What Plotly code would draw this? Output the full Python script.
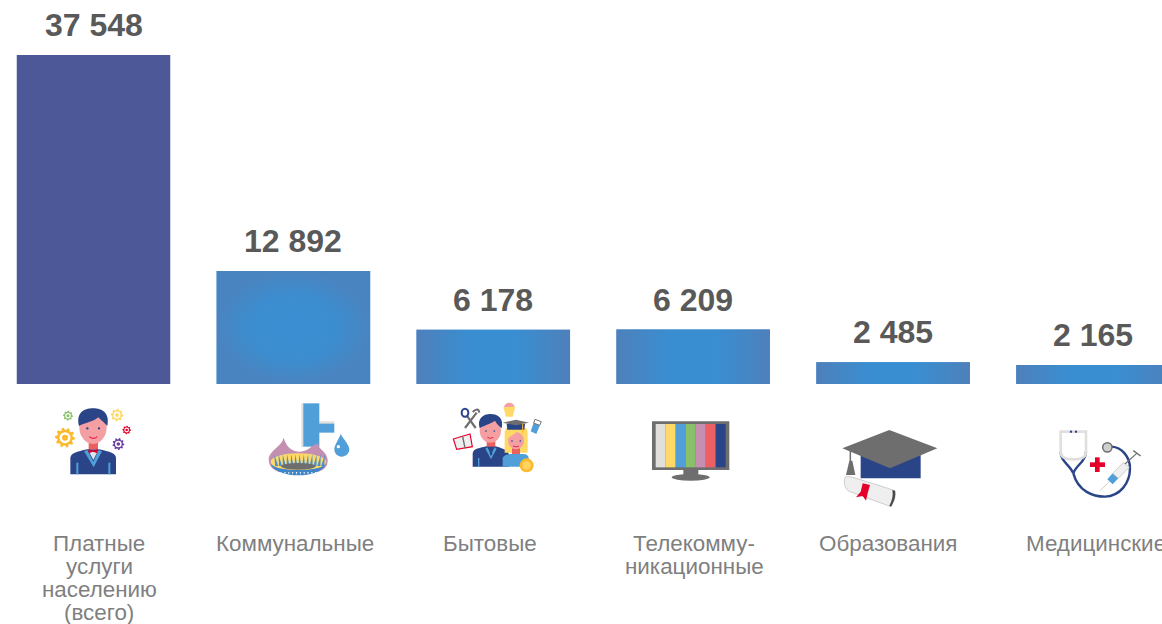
import math
import plotly.graph_objects as go

CATEGORIES = [
    ["Платные", "услуги", "населению", "(всего)"],
    ["Коммунальные"],
    ["Бытовые"],
    ["Телекомму-", "никационные"],
    ["Образования"],
    ["Медицинские"],
]
VALUES = [37548, 12892, 6178, 6209, 2485, 2165]
BAR_COLORS = ["#4C5897", "#3F8ACB", "#3F8ACB", "#3F8ACB", "#3F8ACB", "#3F8ACB"]
LABEL_CENTERS_PX = [99, 295, 490, 694, 888, 1096]

W, H = 1162, 624
BASE_PX = 384
TOP_PX = 55
X0_PX = 93.5
STEP_PX = 199.9
BAR_W = 153.5 / STEP_PX
Y_PER_PX = VALUES[0] / (BASE_PX - TOP_PX)

NAVY = "#2A4488"; PINK = "#F4A0A3"; RED = "#E9605F"; CRIM = "#E4002B"
LBLUE = "#519FD8"; YEL = "#FFD966"; ORG = "#FDB92C"; GREY = "#6E6E6E"
LGREY = "#E0DFDD"; MAUVE = "#C48FB0"; GREEN = "#8AC06A"; PURP = "#6B3FA0"

shapes = []
def X(px): return px / W
def Y(py): return 1 - py / H

def svg(d, o, fill=None, line=None, lw=0):
    out, nums = [], []
    for t in d.split():
        if t.isalpha():
            out.append(t)
        else:
            nums.append(float(t))
            if len(nums) == 2:
                out.append(f"{X(o[0] + nums[0] / 3):.5f},{Y(o[1] + nums[1] / 3):.5f}")
                nums = []
    shapes.append(dict(type="path", path=" ".join(out), xref="paper", yref="paper",
                       fillcolor=fill if fill else "rgba(0,0,0,0)",
                       line=dict(color=line if line else "rgba(0,0,0,0)", width=lw)))

def ell(cx, cy, rx, ry, o, fill=None, line=None, lw=0):
    shapes.append(dict(type="circle", xref="paper", yref="paper",
                       x0=X(o[0] + (cx - rx) / 3), x1=X(o[0] + (cx + rx) / 3),
                       y0=Y(o[1] + (cy - ry) / 3), y1=Y(o[1] + (cy + ry) / 3),
                       fillcolor=fill if fill else "rgba(0,0,0,0)",
                       line=dict(color=line if line else "rgba(0,0,0,0)", width=lw)))

def box(x0, y0, x1, y1, o, fill):
    svg(f"M {x0} {y0} L {x1} {y0} L {x1} {y1} L {x0} {y1} Z", o, fill)

def gear(cx, cy, r, teeth, o, col):
    pts = []
    for k in range(teeth * 4):
        a = 2 * math.pi * k / (teeth * 4)
        rr = r if k % 4 in (0, 1) else r * 0.78
        pts.append((cx + rr * math.cos(a), cy + rr * math.sin(a)))
    d = "M " + " L ".join(f"{p[0]:.1f} {p[1]:.1f}" for p in pts) + " Z"
    svg(d, o, col)
    ell(cx, cy, r * 0.55, r * 0.55, o, "#FFFFFF")
    ell(cx, cy, r * 0.3, r * 0.3, o, col)

# icon 1 : man with gears
o = (0, 390)
gear(195, 143, 30, 10, o, ORG)
gear(204, 77, 15, 8, o, GREEN)
gear(351, 75, 19, 8, o, YEL)
gear(380, 120, 13, 8, o, CRIM)
gear(355, 162, 18, 9, o, PURP)
svg("M 211 253 L 211 205 C 211 190 230 185 262 178 L 296 178 C 330 185 348 190 348 205 L 348 253 Z", o, NAVY)
svg("M 262 180 L 280 215 L 296 180 L 306 184 L 281 232 L 252 184 Z", o, LBLUE)
svg("M 266 184 L 293 184 L 280 210 Z", o, "#DCE6EE")
box(229, 218, 235, 253, o, LBLUE)
box(325, 218, 331, 253, o, LBLUE)
box(266, 155, 294, 178, o, RED)
ell(279, 112, 41, 50, o, PINK)
svg("M 237 108 C 228 70 250 55 279 55 C 308 55 330 70 322 108 C 315 100 305 92 295 82 C 280 96 250 100 237 108 Z", o, NAVY)
ell(262, 115, 3.5, 3.5, o, NAVY)
ell(297, 115, 3.5, 3.5, o, NAVY)
svg("M 268 140 Q 280 150 292 140", o, None, CRIM, 1)
svg("M 266 177 L 279 182 L 292 177 L 292 190 L 279 185 L 266 190 Z", o, CRIM)

# icon 2 : tap and burner
box(904, 40, 912, 170, o, LGREY)
box(958, 94, 1003, 102, o, LGREY)
box(910, 40, 958, 170, o, LBLUE)
box(950, 101, 1003, 128, o, LBLUE)
svg("M 1022 132 C 1032 150 1048 165 1048 178 C 1048 192 1036 200 1025 200 C 1012 200 1003 190 1003 178 C 1003 165 1016 150 1022 132 Z", o, LBLUE)
ell(1015, 170, 5, 5, o, "#FFFFFF")
svg("M 806 205 C 810 180 845 170 851 143 C 858 165 870 185 900 185 C 925 185 935 165 955 160 C 950 175 982 185 983 210 C 983 240 960 250 895 254 C 830 250 806 240 806 205 Z", o, MAUVE)
svg("M 812 212 C 820 200 850 190 895 190 C 940 190 970 200 978 212 C 978 232 950 245 895 248 C 840 245 812 232 812 212 Z", o, YEL)
for k in range(13):
    xb = 830 + k * 11.5
    svg(f"M {xb - 4.5} 228 L {xb + (k - 6) * 1.2:.1f} 193 L {xb + 4.5} 228 Z", o, "#4A8FCF")
svg("M 812 222 C 822 246 860 256 895 256 C 930 256 968 246 978 222 C 962 236 930 240 895 240 C 860 240 828 236 812 222 Z", o, "#3F85C8")
ell(895, 229, 52, 10, o, GREY)
for k in range(12):
    xb = 832 + k * 11.5
    svg(f"M {xb - 2} 246 L {xb} 254 L {xb + 2} 246 Z", o, "#FFFFFF")

# icon 3 : people
o = (410, 390)
svg("M 130 147 L 180 132 L 187 170 L 140 178 Z", o, "#EFEFEF", CRIM, 1.2)
svg("M 158 140 L 165 174", o, None, GREY, 1.4)
svg("M 165 114 L 200 68", o, None, GREY, 2.2)
svg("M 197 114 L 170 76", o, None, GREY, 2.2)
ell(165, 68, 10, 12, o, None, NAVY, 2)
svg("M 188 66 Q 205 50 208 68", o, None, GREY, 2)
svg("M 280 52 L 316 50 L 308 80 L 288 80 Z", o, YEL)
svg("M 282 52 C 284 34 310 34 314 50 Z", o, "#F4A0A3")
svg("M 375 88 L 394 95 L 379 132 L 362 124 Z", o, LBLUE)
svg("M 375 88 L 394 95 L 389 106 L 371 99 Z", o, "#FFFFFF", GREY, 0.9)
svg("M 188 230 L 188 190 C 190 175 210 174 232 168 L 254 168 C 275 175 295 178 297 195 L 297 230 Z", o, NAVY)
svg("M 232 172 L 243 192 L 254 172 L 260 176 L 243 208 L 226 176 Z", o, LBLUE)
box(204, 204, 208, 230, o, LBLUE)
box(230, 152, 256, 170, o, RED)
svg("M 238 172 L 248 172 L 246 196 L 240 196 Z", o, NAVY)
ell(241, 122, 32, 36, o, PINK)
svg("M 209 115 C 200 85 220 72 241 72 C 265 72 282 85 275 115 C 268 108 260 102 255 92 C 240 103 220 106 209 115 Z", o, NAVY)
ell(228, 123, 2.5, 2.5, o, NAVY); ell(253, 123, 2.5, 2.5, o, NAVY)
svg("M 232 142 Q 241 148 250 142", o, None, CRIM, 0.8)
svg("M 284 188 L 284 125 C 290 100 347 100 353 125 L 353 188 Z", o, YEL)
box(306, 172, 330, 192, o, RED)
ell(318, 152, 24, 26, o, PINK)
svg("M 292 146 C 302 138 318 132 326 118 C 332 128 340 138 345 146 L 350 115 L 286 115 Z", o, YEL)
ell(306, 153, 2.5, 2.5, o, NAVY); ell(331, 153, 2.5, 2.5, o, NAVY)
svg("M 309 168 Q 318 174 327 168", o, None, CRIM, 0.8)
svg("M 290 102 L 345 102 L 343 119 L 292 119 Z", o, NAVY)
svg("M 278 98 L 318 89 L 357 98 L 318 106 Z", o, GREY)
svg("M 338 100 L 338 130", o, None, ORG, 1)
svg("M 278 230 L 278 205 C 280 195 295 192 305 192 L 340 192 C 350 192 356 197 356 205 L 356 230 Z", o, LBLUE)
ell(350, 226, 21, 21, o, ORG)
ell(350, 226, 13, 13, o, "#FFD45E")

# icon 4 : television
box(726, 94, 958, 240, o, GREY)
TV = [LGREY, YEL, LBLUE, GREEN, MAUVE, "#EC5F62", NAVY]
for k, c in enumerate(TV):
    box(737 + k * 30, 102, 767 + k * 30, 232, o, c)
box(820, 240, 865, 256, o, GREY)
ell(842, 262, 57, 10, o, GREY)

# icon 5 : graduation cap
o = (790, 390)
box(212, 190, 392, 265, o, NAVY)
svg("M 157 175 L 298 120 L 442 175 L 300 235 Z", o, GREY)
svg("M 181 180 L 181 215", o, None, GREY, 1.5)
svg("M 178 212 L 187 212 L 196 255 L 168 255 Z", o, GREY)
svg("M 165 262 C 172 256 185 260 315 302 C 318 320 312 335 303 350 L 180 305 C 165 300 160 280 165 262 Z", o, "#EFEFEF", "#BDBDBD", 0.7)
svg("M 315 302 C 318 320 312 335 303 350 L 298 347 C 306 332 310 318 307 300 Z", o, "#4A4A4A")
svg("M 218 280 L 240 285 L 233 310 L 228 332 L 218 318 L 198 322 L 212 305 Z", o, CRIM)

# icon 6 : stethoscope
svg("M 850 250 C 840 225 812 215 812 185", o, None, NAVY, 2.4)
svg("M 850 250 C 858 225 888 215 888 185", o, None, NAVY, 2.4)
svg("M 812 185 L 812 125 L 888 125 L 888 185 C 888 205 865 208 850 208 C 835 208 812 205 812 185", o, None, LGREY, 2.6)
ell(843, 125, 3.5, 3.5, o, NAVY); ell(858, 125, 3.5, 3.5, o, NAVY)
svg("M 850 250 C 865 305 910 320 945 320 C 990 318 1020 280 1020 235 C 1020 200 995 172 965 170", o, None, NAVY, 2.4)
ell(952, 172, 14, 14, o, "#CFCFCF", GREY, 1.5)
box(915, 202, 929, 246, o, CRIM)
box(900, 217, 945, 231, o, CRIM)
svg("M 930 302 L 958 275", o, None, "#CFCFCF", 1)
svg("M 952 268 L 968 250 L 985 265 L 968 283 Z", o, LBLUE)
svg("M 968 250 L 1000 218 L 1018 232 L 985 265 Z", o, "#EFEFEF", "#BDBDBD", 0.7)
svg("M 1005 222 L 1040 190", o, None, GREY, 1.2)
svg("M 1030 182 L 1052 198", o, None, GREY, 1.4)

fig = go.Figure()
x_idx = list(range(len(VALUES)))
fig.add_trace(go.Bar(x=x_idx, y=VALUES, width=BAR_W, marker=dict(color=BAR_COLORS, line=dict(width=0)),
                     hoverinfo="skip", showlegend=False))

# gradient sheen over the lighter bars
EDGE, CENTRE = "#4E80BB", "#398ED1"
for i, v in enumerate(VALUES):
    if i == 0:
        continue
    xl, xr = i - BAR_W / 2, i + BAR_W / 2
    if i == 1:
        grad = dict(type="radial", colorscale=[[0, CENTRE], [0.55, "#3B8DCF"], [1, "#4A84C0"]])
    else:
        grad = dict(type="horizontal", colorscale=[[0, EDGE], [0.35, CENTRE], [0.65, CENTRE], [1, EDGE]])
    fig.add_trace(go.Scatter(x=[xl, xr, xr, xl, xl], y=[0, 0, v, v, 0], mode="lines", fill="toself",
                             line=dict(width=0), fillgradient=grad, hoverinfo="skip", showlegend=False))

ann = []
for i, v in enumerate(VALUES):
    ann.append(dict(x=i, y=v, xref="x", yref="y", text=f"{v:,}".replace(",", " "), showarrow=False,
                    yanchor="bottom", yshift=10, font=dict(family="Liberation Sans", size=32, color="#595959", weight="bold")))
    for j, line in enumerate(CATEGORIES[i]):
        ann.append(dict(x=LABEL_CENTERS_PX[i] / W, y=Y(543 + 23 * j), xref="paper", yref="paper", text=line,
                        showarrow=False, yanchor="middle", xanchor="center",
                        font=dict(family="Liberation Sans", size=22.4, color="#7F7F7F")))

fig.update_layout(
    width=W, height=H, margin=dict(l=0, r=0, t=0, b=0), paper_bgcolor="#FFFFFF", plot_bgcolor="#FFFFFF",
    barmode="overlay", showlegend=False, shapes=shapes, annotations=ann,
    xaxis=dict(range=[-X0_PX / STEP_PX, (W - X0_PX) / STEP_PX], visible=False, fixedrange=True),
    yaxis=dict(range=[-(H - BASE_PX) * Y_PER_PX, BASE_PX * Y_PER_PX], visible=False, fixedrange=True),
)
fig.write_html("out.html", post_script="document.body.style.margin='0';document.documentElement.style.overflow='hidden';",
               config=dict(displayModeBar=False))
